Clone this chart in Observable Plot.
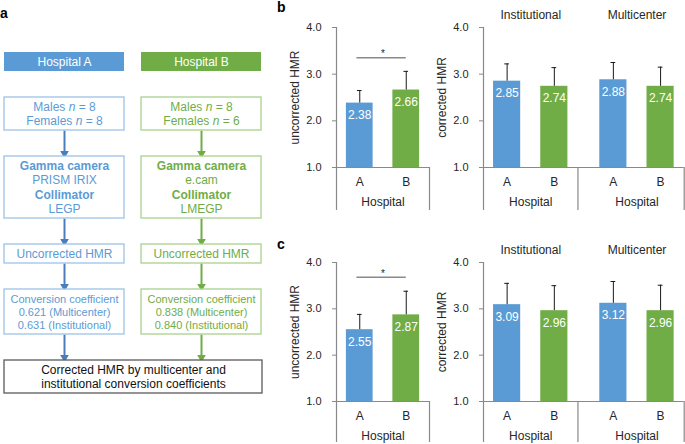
<!DOCTYPE html>
<html>
<head>
<meta charset="utf-8">
<script src="https://cdn.jsdelivr.net/npm/d3@7"></script>
<script src="https://cdn.jsdelivr.net/npm/@observablehq/plot@0.6"></script>
<style>
  html, body { margin: 0; padding: 0; background: #fff; }
  #fig { position: relative; width: 685px; height: 444px; overflow: hidden;
         font-family: "Liberation Sans", Arial, sans-serif; color: #262626; }
  #fig svg { position: absolute; background: transparent; overflow: visible; }
  .plab { position: absolute; font-weight: bold; font-size: 14px; line-height: 14px; color: #000; }
</style>
</head>
<body>
<div id="fig"></div>
<script>
// ---------------- DATA ----------------
const hospitals = ["A", "B"];
const hospitalColors = ["#5B9BD5", "#70AD47"];

// panel b (top row)
const uncorrectedB = [2.38, 2.66];
const uncorrectedBsd = [0.27, 0.40];
const institutionalB = [2.85, 2.74];
const institutionalBsd = [0.37, 0.40];
const multicenterB = [2.88, 2.74];
const multicenterBsd = [0.37, 0.41];
const significanceB = 3.35;

// panel c (bottom row)
const uncorrectedC = [2.55, 2.87];
const uncorrectedCsd = [0.33, 0.51];
const institutionalC = [3.09, 2.96];
const institutionalCsd = [0.46, 0.54];
const multicenterC = [3.12, 2.96];
const multicenterCsd = [0.47, 0.55];
const significanceC = 3.68;

const yTicks = [1, 2, 3, 4];

// panel a (flowchart)
const flowHeaders = ["Hospital A", "Hospital B"];
const cohortLines = [["Males n = 8", "Females n = 8"], ["Males n = 8", "Females n = 6"]];
const cameraLines = [["Gamma camera", "PRISM IRIX", "Collimator", "LEGP"],
                     ["Gamma camera", "e.cam", "Collimator", "LMEGP"]];
const boldLines = ["Gamma camera", "Collimator"];
const hmrLabel = "Uncorrected HMR";
const coefTitle = "Conversion coefficient";
const multicenterCoef = [0.621, 0.838];
const institutionalCoef = [0.631, 0.840];
const finalLines = ["Corrected HMR by multicenter and", "institutional conversion coefficients"];

// ---------------- LAYOUT / STYLE ----------------
const fig = document.getElementById("fig");
const FONT = "Liberation Sans, Arial, sans-serif";
const axisGray = "#898989";
const textDark = "#262626";
const boxStroke = ["#9DC3E6", "#A9D18E"];
const boxText = ["#5B9BD5", "#70AD47"];
const arrowColor = ["#4A7EBB", "#70AD47"];

function place(el, left, top) {
  el.style.left = left + "px";
  el.style.top = top + "px";
  fig.appendChild(el);
}

function italicN(svg) {
  d3.select(svg).selectAll("text").each(function () {
    const t = this.textContent;
    const m = /^(.*\s)n(\s=.*)$/.exec(t);
    if (!m || this.querySelector("tspan")) return;
    this.textContent = "";
    const sel = d3.select(this);
    sel.append("tspan").text(m[1]);
    sel.append("tspan").attr("font-style", "italic").text("n");
    sel.append("tspan").text(m[2]);
  });
}

// ---------------- FLOWCHART ----------------
(function () {
  const header = {top: 52, bottom: 71};
  const steps = [
    {top: 97, bottom: 130, size: 12, lh: 14},
    {top: 156, bottom: 218, size: 12, lh: 14.4},
    {top: 244, bottom: 263, size: 12, lh: 14},
    {top: 289, bottom: 334, size: 11, lh: 13}
  ];
  const finalBox = {top: 360, bottom: 393, size: 12, lh: 14};

  const stepTexts = hospitals.map((h, i) => [
    cohortLines[i],
    cameraLines[i],
    [hmrLabel],
    [coefTitle,
     `${multicenterCoef[i].toFixed(3)} (Multicenter)`,
     `${institutionalCoef[i].toFixed(3)} (Institutional)`]
  ]);

  const headers = hospitals.map((h, i) => ({col: h, text: flowHeaders[i], fill: hospitalColors[i],
    top: header.top, bottom: header.bottom}));
  const boxes = [];
  const lines = [];
  const arrows = [];
  hospitals.forEach((h, i) => {
    steps.forEach((s, k) => {
      boxes.push({col: h, top: s.top, bottom: s.bottom, stroke: boxStroke[i]});
      const ls = stepTexts[i][k];
      const c = (s.top + s.bottom) / 2;
      ls.forEach((t, j) => lines.push({col: h, y: c + (j - (ls.length - 1) / 2) * s.lh, text: t,
        bold: boldLines.includes(t), size: s.size, color: boxText[i]}));
      const next = k + 1 < steps.length ? steps[k + 1].top : finalBox.top;
      arrows.push({col: h, from: s.bottom, to: next, color: arrowColor[i]});
    });
  });
  const fc = (finalBox.top + finalBox.bottom) / 2;
  const finals = finalLines.map((t, j) => ({y: fc + (j - (finalLines.length - 1) / 2) * finalBox.lh, text: t}));

  const svg = Plot.plot({
    width: 265, height: 400,
    marginLeft: 4, marginRight: 3, marginTop: 0, marginBottom: 0,
    style: {fontFamily: FONT, background: "transparent"},
    x: {type: "band", domain: hospitals, paddingInner: 0.124, paddingOuter: 0, axis: null},
    y: {domain: [0, 400], range: [0, 400], axis: null},
    color: {type: "identity"},
    marks: [
      Plot.barY(headers, {x: "col", y1: "top", y2: "bottom", fill: "fill"}),
      Plot.text(headers, {x: "col", y: d => (d.top + d.bottom) / 2, text: "text", fill: "white", fontSize: 12}),
      Plot.link(arrows, {x1: "col", x2: "col", y1: "from", y2: d => d.to - 4, stroke: "color", strokeWidth: 2}),
      Plot.dot(arrows, {x: "col", y: d => d.to - 3, symbol: "triangle", r: 3.2, fill: "color", rotate: 180, stroke: null}),
      Plot.barY(boxes, {x: "col", y1: "top", y2: "bottom", fill: "white", stroke: "stroke", strokeWidth: 1.3}),
      Plot.barY([finalBox], {y1: "top", y2: "bottom", fill: "white", stroke: "#5a5a5a", strokeWidth: 1.3}),
      Plot.text(lines.filter(d => !d.bold), {x: "col", y: "y", text: "text", fill: "color", fontSize: "size"}),
      Plot.text(lines.filter(d => d.bold), {x: "col", y: "y", text: "text", fill: "color", fontSize: "size", fontWeight: "bold"}),
      Plot.text(finals, {y: "y", text: "text", fill: "#111", fontSize: 12})
    ]
  });
  italicN(svg);
  place(svg, 0, 0);
})();

// ---------------- BAR PANELS ----------------
function barPanel(cfg) {
  const {groups, yLabel, sig, left, top, width, height, marginLeft, marginRight,
         marginTop, marginBottom, xMax, separators, sepDepth} = cfg;
  const unitPx = (height - marginTop - marginBottom) / 3;
  const yLow = 1 - sepDepth / unitPx;
  const bw = 0.575, cap = 0.05;
  const recs = [];
  groups.forEach(g => hospitals.forEach((h, i) => recs.push({
    h, pos: g.offset + i + 0.5, v: g.values[i], top: g.values[i] + g.sd[i], fill: hospitalColors[i]
  })));
  const marks = [
    Plot.rectY(recs, {x1: d => d.pos - bw / 2, x2: d => d.pos + bw / 2, y1: 1, y2: "v", fill: "fill"}),
    Plot.ruleX(recs, {x: "pos", y1: "v", y2: "top", stroke: "#1a1a1a", strokeWidth: 1}),
    Plot.ruleY(recs, {y: "top", x1: d => d.pos - cap, x2: d => d.pos + cap, stroke: "#1a1a1a", strokeWidth: 1}),
    Plot.text(recs, {x: "pos", y: "v", text: d => d.v.toFixed(2), fill: "white", fontSize: 12, dy: 12}),
    Plot.ruleY([1], {stroke: axisGray, strokeWidth: 1.2}),
    Plot.ruleX(separators, {x: d => d, y1: d => (d === 0 ? 4 : 1), y2: yLow, stroke: axisGray, strokeWidth: 1.2}),
    Plot.axisY({ticks: yTicks, tickFormat: d3.format(".1f"), tickSize: 4, tickPadding: 11,
                fontSize: 11, label: null, stroke: axisGray}),
    Plot.text(recs, {x: "pos", y: 1, text: "h", dy: 15, fontSize: 12, fill: textDark}),
    Plot.text(groups, {x: d => d.offset + 1, y: 1, text: () => "Hospital", dy: 35, fontSize: 12, fill: textDark}),
    Plot.text(groups.filter(g => g.name), {x: d => d.offset + 1, y: 4, text: "name", dy: -12, fontSize: 12, fill: textDark}),
    Plot.text([yLabel], {frameAnchor: "left", textAnchor: "middle", lineAnchor: "middle", dx: -41, rotate: -90, fontSize: 12, fill: textDark})
  ];
  if (sig) {
    const a = recs[0], b = recs[1];
    marks.push(
      Plot.ruleY([sig], {y: d => d, x1: a.pos - 0.06, x2: b.pos, stroke: axisGray, strokeWidth: 1.5}),
      Plot.text([sig], {x: (a.pos + b.pos) / 2, y: d => d, text: () => "*", dy: -4, fontSize: 10, fill: textDark})
    );
  }
  const svg = Plot.plot({
    width, height, marginLeft, marginRight, marginTop, marginBottom,
    style: {fontFamily: FONT, background: "transparent", color: textDark},
    x: {domain: [0, xMax], axis: null},
    y: {domain: [1, 4], axis: null},
    color: {type: "identity"},
    marks
  });
  place(svg, left, top);
}

const rows = [
  {top: 0, height: 215, marginTop: 27, marginBottom: 48, sepDepth: 43,
   unc: uncorrectedB, uncSd: uncorrectedBsd, inst: institutionalB, instSd: institutionalBsd,
   multi: multicenterB, multiSd: multicenterBsd, sig: significanceB},
  {top: 234, height: 210, marginTop: 28, marginBottom: 43, sepDepth: 41,
   unc: uncorrectedC, uncSd: uncorrectedCsd, inst: institutionalC, instSd: institutionalCsd,
   multi: multicenterC, multiSd: multicenterCsd, sig: significanceC}
];

rows.forEach(r => {
  barPanel({
    groups: [{name: null, offset: 0, values: r.unc, sd: r.uncSd}],
    yLabel: "uncorrected HMR", sig: r.sig,
    left: 240, top: r.top, width: 192, height: r.height,
    marginLeft: 96, marginRight: 3, marginTop: r.marginTop, marginBottom: r.marginBottom,
    xMax: 2, separators: [0, 2], sepDepth: r.sepDepth
  });
  barPanel({
    groups: [{name: "Institutional", offset: 0, values: r.inst, sd: r.instSd},
             {name: "Multicenter", offset: 2.25, values: r.multi, sd: r.multiSd}],
    yLabel: "corrected HMR", sig: null,
    left: 435, top: r.top, width: 250, height: r.height,
    marginLeft: 48, marginRight: 1.3, marginTop: r.marginTop, marginBottom: r.marginBottom,
    xMax: 4.25, separators: [0, 2, 4.25], sepDepth: r.sepDepth
  });
});

// panel letters
[["a", 0, 6], ["b", 277, 0], ["c", 277, 237]].forEach(([t, x, y]) => {
  const d = document.createElement("div");
  d.className = "plab";
  d.textContent = t;
  d.style.left = x + "px";
  d.style.top = y + "px";
  fig.appendChild(d);
});
</script>
</body>
</html>
